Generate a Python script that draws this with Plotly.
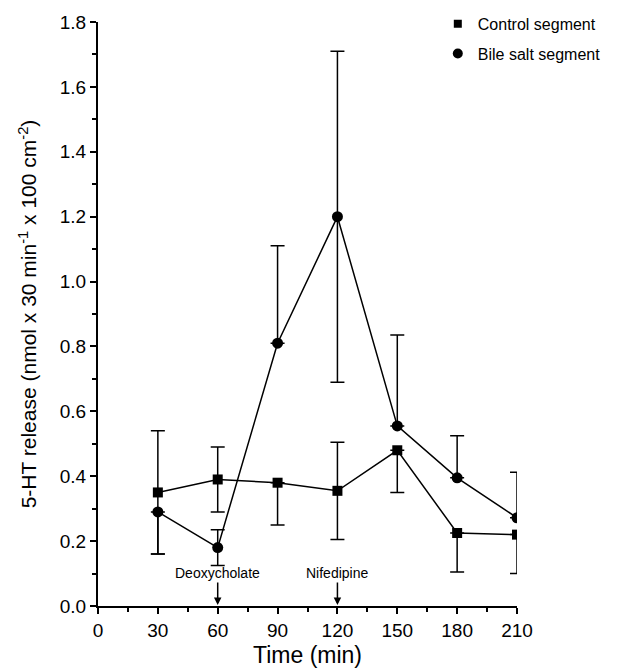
import plotly.graph_objects as go

time = [30, 60, 90, 120, 150, 180, 210]
control_mean = [0.35, 0.39, 0.38, 0.355, 0.48, 0.225, 0.22]
control_err_plus = [0.19, 0.10, 0.0, 0.15, 0.0, 0.0, 0.0]
control_err_minus = [0.19, 0.10, 0.13, 0.15, 0.13, 0.12, 0.12]
bile_mean = [0.29, 0.18, 0.81, 1.20, 0.555, 0.395, 0.272]
bile_err_plus = [0.0, 0.055, 0.30, 0.51, 0.28, 0.13, 0.14]
bile_err_minus = [0.13, 0.055, 0.0, 0.51, 0.0, 0.0, 0.0]
x_ticks = [0, 30, 60, 90, 120, 150, 180, 210]
y_ticks = [0.0, 0.2, 0.4, 0.6, 0.8, 1.0, 1.2, 1.4, 1.6, 1.8]
events = [(60, "Deoxycholate"), (120, "Nifedipine")]

FONT = "Arial, Liberation Sans, sans-serif"

fig = go.Figure()
fig.add_trace(go.Scatter(
    x=time, y=control_mean, mode="lines+markers",
    line=dict(color="black", width=1.5),
    marker=dict(symbol="square", size=10, color="black"),
    error_y=dict(type="data", symmetric=False, array=control_err_plus,
                 arrayminus=control_err_minus, color="black", thickness=1.5, width=7),
    showlegend=False,
))
fig.add_trace(go.Scatter(
    x=time, y=bile_mean, mode="lines+markers",
    line=dict(color="black", width=1.5),
    marker=dict(symbol="circle", size=11, color="black"),
    error_y=dict(type="data", symmetric=False, array=bile_err_plus,
                 arrayminus=bile_err_minus, color="black", thickness=1.5, width=7),
    showlegend=False,
))
# legend entries (markers only)
fig.add_trace(go.Scatter(x=[None], y=[None], mode="markers", name="Control segment",
                         marker=dict(symbol="square", size=8, color="black"),
                         legendgroup="a"))
fig.add_trace(go.Scatter(x=[None], y=[None], mode="markers", name="Bile salt segment",
                         marker=dict(symbol="circle", size=10, color="black"),
                         legendgroup="b"))

for xv, label in events:
    fig.add_annotation(x=xv, y=0, xref="x", yref="y", text=label,
                       showarrow=True, arrowhead=2, arrowsize=1, arrowwidth=1.5,
                       arrowcolor="black", ax=0, ay=-33, standoff=1,
                       font=dict(size=14, color="black", family=FONT))

fig.update_layout(
    width=611, height=664,
    margin=dict(l=90, r=102, t=14, b=66, autoexpand=False),
    plot_bgcolor="white", paper_bgcolor="white",
    font=dict(family=FONT, color="black"),
    legend=dict(x=0.811, y=1.026, xanchor="left", yanchor="top",
                font=dict(size=16, color="black"), bgcolor="rgba(0,0,0,0)",
                traceorder="grouped", tracegroupgap=6, itemwidth=30),
)
fig.update_xaxes(
    range=[0, 210], tickvals=x_ticks, ticktext=[str(v) for v in x_ticks],
    showline=True, linecolor="black", linewidth=2, showgrid=False, zeroline=False,
    ticks="outside", ticklen=6, tickwidth=2, tickcolor="black",
    tickfont=dict(size=19), automargin=False,
    minor=dict(dtick=15, ticks="outside", ticklen=4, tickwidth=1.5, tickcolor="black", showgrid=False),
    title=dict(text="Time (min)", font=dict(size=23), standoff=7),
)
fig.update_yaxes(
    range=[0, 1.8], tickvals=y_ticks, tickformat=".1f",
    showline=True, linecolor="black", linewidth=2, showgrid=False, zeroline=False,
    ticks="outside", ticklen=6, tickwidth=2, tickcolor="black",
    tickfont=dict(size=19), automargin=False,
    minor=dict(dtick=0.1, ticks="outside", ticklen=4, tickwidth=1.5, tickcolor="black", showgrid=False),
    title=dict(text="5-HT release (nmol x 30 min<sup>-1</sup> x 100 cm<sup>-2</sup>)",
               font=dict(size=21), standoff=17),
)

fig.write_html("out.html")
